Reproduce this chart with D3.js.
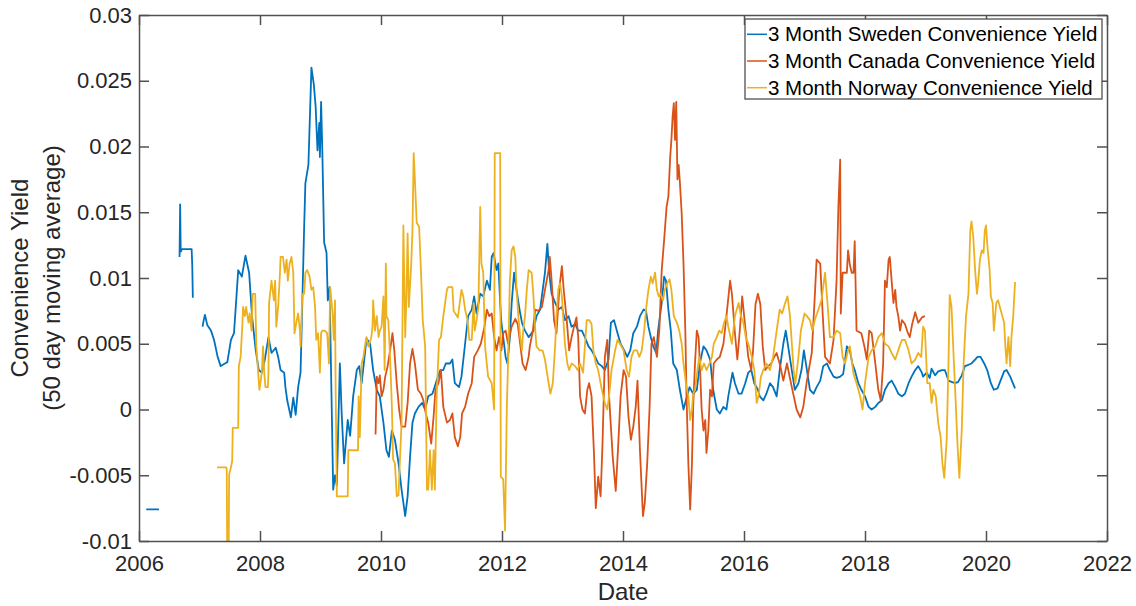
<!DOCTYPE html>
<html>
<head>
<meta charset="utf-8">
<script src="https://cdn.jsdelivr.net/npm/d3@7"></script>
<style>
body { margin: 0; background: #fff; }
svg { display: block; font-family: "Liberation Sans", Arial, sans-serif; }
</style>
</head>
<body>
<svg id="chart" width="1136" height="606"></svg>
<script>
// tick values
var xTicks = [2006, 2008, 2010, 2012, 2014, 2016, 2018, 2020, 2022];
var yTicks = [-0.01, -0.005, 0, 0.005, 0.01, 0.015, 0.02, 0.025, 0.03];

var seriesNames = [
	"3 Month Sweden Convenience Yield",
	"3 Month Canada Convenience Yield",
	"3 Month Norway Convenience Yield"
];

// [decimal year, yield], null = gap in the series
var sweden = [
	[2006.12,-0.0076],[2006.33,-0.0076],null,
	[2006.67,0.0116],[2006.68,0.0156],[2006.69,0.0120],[2006.71,0.0122],[2006.87,0.0122],[2006.88,0.0110],[2006.89,0.0085],null,
	[2007.05,0.0063],[2007.07,0.0068],[2007.09,0.0072],[2007.13,0.0064],[2007.19,0.0060],[2007.24,0.0053],[2007.30,0.0040],[2007.35,0.0033],
	[2007.42,0.0035],[2007.46,0.0036],[2007.52,0.0053],[2007.57,0.0058],[2007.64,0.0106],[2007.70,0.0101],[2007.76,0.0117],[2007.82,0.0104],
	[2007.87,0.0070],[2007.93,0.0045],[2007.98,0.0030],[2008.03,0.0028],[2008.08,0.0038],[2008.14,0.0055],[2008.19,0.0043],[2008.26,0.0047],
	[2008.30,0.0040],[2008.34,0.0030],[2008.40,0.0028],[2008.42,0.0017],[2008.45,0.0007],[2008.51,-0.0006],[2008.55,0.0009],[2008.59,-0.0004],
	[2008.63,0.0017],[2008.67,0.0028],[2008.70,0.0083],[2008.73,0.0139],[2008.75,0.0172],[2008.80,0.0186],[2008.83,0.0230],[2008.85,0.0260],
	[2008.89,0.0247],[2008.92,0.0230],[2008.95,0.0197],[2008.98,0.0218],[2008.99,0.0192],[2009.01,0.0234],[2009.03,0.0197],[2009.06,0.0127],
	[2009.10,0.0119],[2009.12,0.0083],[2009.15,0.0093],[2009.18,0.0015],[2009.21,-0.0061],[2009.24,-0.0050],[2009.27,-0.0058],[2009.32,0.0035],
	[2009.35,-0.0003],[2009.39,-0.0041],[2009.45,-0.0008],[2009.49,-0.0020],[2009.54,0.0010],[2009.60,0.0030],[2009.64,0.0033],[2009.68,0.0020],
	[2009.74,0.0045],[2009.76,0.0054],[2009.82,0.0050],[2009.87,0.0030],[2009.93,0.0015],[2009.98,0.0010],[2010.04,-0.0010],[2010.09,-0.0031],
	[2010.13,-0.0036],[2010.18,-0.0016],[2010.23,-0.0023],[2010.29,-0.0041],[2010.34,-0.0061],[2010.40,-0.0081],[2010.44,-0.0066],[2010.48,-0.0036],
	[2010.52,-0.0010],[2010.56,-0.0003],[2010.62,0.0002],[2010.68,0.0005],[2010.73,0.0000],[2010.78,0.0010],[2010.85,0.0012],[2010.92,0.0022],
	[2010.98,0.0030],[2011.03,0.0030],[2011.07,0.0035],[2011.14,0.0035],[2011.18,0.0038],[2011.22,0.0020],[2011.29,0.0017],[2011.33,0.0025],
	[2011.39,0.0050],[2011.44,0.0071],[2011.50,0.0076],[2011.54,0.0086],[2011.58,0.0073],[2011.64,0.0088],[2011.69,0.0086],[2011.75,0.0098],
	[2011.80,0.0091],[2011.83,0.0116],[2011.86,0.0119],[2011.91,0.0106],[2011.94,0.0111],[2011.97,0.0081],[2011.99,0.0066],[2012.02,0.0055],
	[2012.06,0.0040],[2012.09,0.0035],[2012.13,0.0055],[2012.16,0.0081],[2012.20,0.0104],[2012.24,0.0091],[2012.29,0.0076],[2012.33,0.0066],
	[2012.38,0.0060],[2012.44,0.0055],[2012.52,0.0060],[2012.57,0.0071],[2012.63,0.0076],[2012.71,0.0104],[2012.75,0.0126],[2012.78,0.0104],
	[2012.82,0.0088],[2012.88,0.0081],[2012.93,0.0076],[2012.99,0.0078],[2013.04,0.0068],[2013.10,0.0071],[2013.15,0.0063],[2013.21,0.0065],
	[2013.26,0.0060],[2013.32,0.0060],[2013.37,0.0055],[2013.43,0.0048],[2013.48,0.0045],[2013.54,0.0040],[2013.59,0.0035],[2013.65,0.0033],
	[2013.70,0.0030],[2013.76,0.0038],[2013.80,0.0066],[2013.85,0.0068],[2013.91,0.0058],[2013.96,0.0050],[2014.02,0.0045],[2014.07,0.0040],
	[2014.12,0.0045],[2014.17,0.0058],[2014.23,0.0063],[2014.28,0.0071],[2014.34,0.0076],[2014.38,0.0075],[2014.42,0.0063],[2014.46,0.0055],
	[2014.50,0.0048],[2014.55,0.0043],[2014.58,0.0060],[2014.64,0.0081],[2014.68,0.0101],[2014.71,0.0098],[2014.75,0.0076],[2014.79,0.0060],
	[2014.83,0.0035],[2014.89,0.0030],[2014.94,0.0015],[2015.00,0.0000],[2015.04,0.0007],[2015.10,0.0017],[2015.16,0.0012],[2015.22,0.0015],
	[2015.27,0.0035],[2015.33,0.0048],[2015.38,0.0045],[2015.44,0.0038],[2015.49,0.0015],[2015.55,0.0000],[2015.60,-0.0003],[2015.66,0.0002],
	[2015.71,0.0000],[2015.74,0.0010],[2015.81,0.0028],[2015.85,0.0020],[2015.91,0.0012],[2015.96,0.0012],[2016.02,0.0020],[2016.07,0.0028],
	[2016.12,0.0030],[2016.17,0.0020],[2016.23,0.0015],[2016.26,0.0010],[2016.32,0.0007],[2016.37,0.0012],[2016.43,0.0020],[2016.48,0.0017],
	[2016.54,0.0010],[2016.59,0.0030],[2016.65,0.0050],[2016.69,0.0060],[2016.73,0.0048],[2016.79,0.0030],[2016.84,0.0015],[2016.90,0.0020],
	[2016.95,0.0030],[2016.99,0.0045],[2017.04,0.0030],[2017.09,0.0015],[2017.15,0.0012],[2017.20,0.0017],[2017.26,0.0022],[2017.31,0.0033],
	[2017.37,0.0035],[2017.42,0.0030],[2017.48,0.0025],[2017.53,0.0024],[2017.59,0.0025],[2017.64,0.0027],[2017.70,0.0048],[2017.75,0.0045],
	[2017.79,0.0035],[2017.83,0.0030],[2017.89,0.0020],[2017.94,0.0015],[2018.00,0.0010],[2018.06,0.0002],[2018.11,0.0000],[2018.17,0.0002],
	[2018.22,0.0005],[2018.28,0.0007],[2018.33,0.0015],[2018.39,0.0020],[2018.44,0.0022],[2018.50,0.0017],[2018.55,0.0012],[2018.61,0.0010],
	[2018.66,0.0012],[2018.72,0.0020],[2018.77,0.0025],[2018.83,0.0030],[2018.88,0.0033],[2018.94,0.0028],[2018.96,0.0025],[2019.02,0.0028],
	[2019.07,0.0024],[2019.10,0.0031],[2019.16,0.0026],[2019.21,0.0029],[2019.27,0.0030],[2019.32,0.0030],[2019.38,0.0022],[2019.43,0.0021],
	[2019.49,0.0020],[2019.54,0.0021],[2019.60,0.0026],[2019.65,0.0033],[2019.71,0.0034],[2019.76,0.0035],[2019.82,0.0038],[2019.86,0.0040],
	[2019.91,0.0040],[2019.97,0.0035],[2020.02,0.0030],[2020.08,0.0020],[2020.13,0.0015],[2020.19,0.0016],[2020.24,0.0022],[2020.30,0.0029],
	[2020.34,0.0030],[2020.40,0.0025],[2020.48,0.0016]
];

var canada = [
	[2009.91,-0.0019],[2009.93,0.0025],[2009.96,0.0020],[2009.98,0.0026],[2010.01,0.0010],[2010.04,0.0015],[2010.07,0.0025],[2010.11,0.0033],
	[2010.15,0.0045],[2010.19,0.0058],[2010.22,0.0045],[2010.26,0.0020],[2010.30,0.0000],[2010.34,-0.0013],[2010.40,-0.0013],[2010.44,0.0005],
	[2010.48,0.0035],[2010.52,0.0046],[2010.56,0.0035],[2010.61,0.0015],[2010.66,0.0012],[2010.70,0.0007],[2010.74,-0.0003],[2010.78,-0.0010],
	[2010.83,-0.0026],[2010.87,-0.0005],[2010.90,0.0015],[2010.95,0.0020],[2010.99,0.0030],[2011.03,0.0002],[2011.09,-0.0010],[2011.14,-0.0008],
	[2011.18,-0.0003],[2011.22,-0.0021],[2011.27,-0.0028],[2011.31,-0.0021],[2011.34,-0.0003],[2011.39,0.0002],[2011.44,0.0012],[2011.50,0.0020],
	[2011.54,0.0040],[2011.60,0.0045],[2011.65,0.0050],[2011.71,0.0063],[2011.75,0.0076],[2011.79,0.0071],[2011.83,0.0073],[2011.87,0.0055],
	[2011.91,0.0045],[2011.95,0.0055],[2011.99,0.0045],[2012.02,0.0058],[2012.06,0.0060],[2012.10,0.0050],[2012.16,0.0063],[2012.22,0.0069],
	[2012.26,0.0065],[2012.30,0.0050],[2012.34,0.0035],[2012.39,0.0030],[2012.44,0.0040],[2012.46,0.0048],[2012.51,0.0060],[2012.55,0.0076],
	[2012.60,0.0075],[2012.66,0.0078],[2012.71,0.0091],[2012.77,0.0106],[2012.79,0.0116],[2012.82,0.0098],[2012.86,0.0068],[2012.90,0.0058],
	[2012.95,0.0093],[2012.99,0.0109],[2013.02,0.0091],[2013.07,0.0068],[2013.11,0.0045],[2013.15,0.0055],[2013.19,0.0063],[2013.23,0.0070],
	[2013.26,0.0055],[2013.29,0.0010],[2013.33,0.0000],[2013.37,-0.0003],[2013.41,0.0015],[2013.44,0.0020],[2013.48,0.0010],[2013.52,-0.0033],
	[2013.55,-0.0075],[2013.59,-0.0051],[2013.63,-0.0066],[2013.66,-0.0028],[2013.70,0.0040],[2013.74,0.0053],[2013.77,0.0010],[2013.83,-0.0036],
	[2013.88,-0.0062],[2013.92,-0.0028],[2013.96,0.0010],[2014.01,0.0030],[2014.05,0.0025],[2014.09,-0.0005],[2014.13,-0.0023],[2014.17,-0.0013],
	[2014.21,0.0002],[2014.24,0.0022],[2014.28,-0.0031],[2014.33,-0.0081],[2014.36,-0.0071],[2014.40,-0.0041],[2014.44,0.0002],[2014.47,0.0050],
	[2014.51,0.0055],[2014.56,0.0040],[2014.60,0.0060],[2014.64,0.0106],[2014.68,0.0129],[2014.72,0.0154],[2014.75,0.0162],[2014.78,0.0192],
	[2014.80,0.0205],[2014.82,0.0223],[2014.84,0.0233],[2014.86,0.0205],[2014.88,0.0234],[2014.90,0.0175],[2014.92,0.0186],[2014.94,0.0173],
	[2014.97,0.0149],[2015.00,0.0111],[2015.03,0.0060],[2015.05,0.0010],[2015.08,-0.0041],[2015.11,-0.0076],[2015.14,-0.0041],[2015.16,0.0002],
	[2015.19,0.0035],[2015.22,0.0060],[2015.25,0.0055],[2015.27,0.0035],[2015.30,0.0000],[2015.33,-0.0016],[2015.36,-0.0008],[2015.38,-0.0033],
	[2015.41,-0.0016],[2015.44,0.0015],[2015.47,0.0010],[2015.50,0.0035],[2015.55,0.0038],[2015.60,0.0040],[2015.66,0.0050],[2015.71,0.0071],
	[2015.77,0.0098],[2015.80,0.0088],[2015.85,0.0058],[2015.89,0.0038],[2015.93,0.0060],[2015.97,0.0086],[2016.02,0.0063],[2016.07,0.0040],
	[2016.12,0.0030],[2016.15,0.0045],[2016.19,0.0080],[2016.23,0.0088],[2016.27,0.0080],[2016.31,0.0048],[2016.35,0.0030],[2016.40,0.0033],
	[2016.45,0.0035],[2016.50,0.0040],[2016.54,0.0043],[2016.60,0.0033],[2016.65,0.0022],[2016.71,0.0035],[2016.79,0.0017],[2016.87,0.0000],
	[2016.93,-0.0006],[2016.98,0.0002],[2017.04,0.0022],[2017.12,0.0043],[2017.17,0.0086],[2017.20,0.0114],[2017.26,0.0111],[2017.30,0.0073],
	[2017.34,0.0040],[2017.42,0.0035],[2017.48,0.0053],[2017.53,0.0098],[2017.56,0.0154],[2017.59,0.0190],[2017.60,0.0073],[2017.63,0.0104],
	[2017.70,0.0104],[2017.72,0.0121],[2017.75,0.0110],[2017.78,0.0104],[2017.81,0.0104],[2017.83,0.0128],[2017.86,0.0060],[2017.94,0.0058],
	[2017.99,0.0048],[2018.03,0.0038],[2018.07,0.0060],[2018.11,0.0058],[2018.17,0.0035],[2018.22,0.0015],[2018.26,0.0007],[2018.30,0.0035],
	[2018.33,0.0098],[2018.36,0.0093],[2018.39,0.0114],[2018.41,0.0116],[2018.44,0.0098],[2018.47,0.0081],[2018.50,0.0091],[2018.52,0.0078],
	[2018.55,0.0071],[2018.58,0.0060],[2018.61,0.0068],[2018.66,0.0065],[2018.71,0.0058],[2018.74,0.0055],[2018.78,0.0065],[2018.83,0.0074],
	[2018.88,0.0066],[2018.94,0.0070],[2018.99,0.0071]
];

var norway = [
	[2007.29,-0.0044],[2007.44,-0.0044],[2007.45,-0.0045],[2007.46,-0.0125],[2007.48,-0.0125],[2007.49,-0.0049],[2007.52,-0.0044],[2007.54,-0.0039],
	[2007.55,-0.0014],[2007.64,-0.0014],[2007.65,0.0033],[2007.68,0.0040],[2007.71,0.0066],[2007.72,0.0078],[2007.75,0.0071],[2007.77,0.0078],
	[2007.81,0.0066],[2007.83,0.0073],[2007.86,0.0060],[2007.88,0.0088],[2007.92,0.0088],[2007.94,0.0048],[2007.97,0.0028],[2007.99,0.0015],
	[2008.03,0.0028],[2008.05,0.0048],[2008.07,0.0028],[2008.09,0.0017],[2008.13,0.0017],[2008.14,0.0028],[2008.15,0.0081],[2008.19,0.0098],
	[2008.23,0.0083],[2008.25,0.0098],[2008.27,0.0063],[2008.30,0.0078],[2008.33,0.0104],[2008.34,0.0116],[2008.38,0.0116],[2008.41,0.0104],
	[2008.44,0.0114],[2008.46,0.0098],[2008.49,0.0111],[2008.52,0.0116],[2008.55,0.0104],[2008.57,0.0058],[2008.60,0.0066],[2008.63,0.0073],
	[2008.66,0.0060],[2008.67,0.0048],[2008.70,0.0088],[2008.73,0.0088],[2008.75,0.0104],[2008.78,0.0106],[2008.82,0.0101],[2008.85,0.0091],
	[2008.88,0.0093],[2008.91,0.0078],[2008.93,0.0053],[2008.96,0.0058],[2008.99,0.0028],[2009.01,0.0058],[2009.03,0.0060],[2009.07,0.0060],
	[2009.11,0.0058],[2009.14,0.0035],[2009.16,0.0093],[2009.20,0.0073],[2009.22,0.0053],[2009.24,0.0083],[2009.25,0.0017],[2009.27,-0.0066],
	[2009.45,-0.0066],[2009.46,-0.0031],[2009.62,-0.0031],[2009.63,0.0010],[2009.65,-0.0021],[2009.68,0.0035],[2009.71,0.0040],[2009.74,0.0050],
	[2009.76,0.0055],[2009.79,0.0048],[2009.84,0.0055],[2009.86,0.0063],[2009.87,0.0083],[2009.90,0.0060],[2009.93,0.0071],[2009.96,0.0055],
	[2009.98,0.0060],[2010.01,0.0063],[2010.04,0.0086],[2010.06,0.0030],[2010.08,0.0111],[2010.09,0.0071],[2010.12,0.0068],[2010.15,0.0040],
	[2010.18,0.0002],[2010.20,-0.0038],[2010.23,-0.0041],[2010.26,-0.0066],[2010.29,-0.0065],[2010.31,-0.0041],[2010.34,-0.0010],[2010.37,0.0140],
	[2010.40,0.0055],[2010.42,0.0086],[2010.44,0.0134],[2010.46,0.0078],[2010.50,0.0111],[2010.52,0.0136],[2010.54,0.0195],[2010.56,0.0175],
	[2010.59,0.0142],[2010.63,0.0139],[2010.66,0.0106],[2010.69,0.0068],[2010.73,0.0048],[2010.76,-0.0061],[2010.78,-0.0061],[2010.81,-0.0031],
	[2010.84,-0.0061],[2010.87,-0.0031],[2010.89,-0.0061],[2010.92,0.0010],[2010.96,0.0053],[2010.99,0.0055],[2011.03,0.0071],[2011.06,0.0081],
	[2011.09,0.0091],[2011.11,0.0093],[2011.18,0.0093],[2011.20,0.0075],[2011.27,0.0070],[2011.33,0.0091],[2011.36,0.0086],[2011.39,0.0076],
	[2011.43,0.0068],[2011.46,0.0053],[2011.50,0.0053],[2011.53,0.0081],[2011.55,0.0060],[2011.58,0.0068],[2011.61,0.0078],[2011.64,0.0154],
	[2011.66,0.0111],[2011.69,0.0104],[2011.72,0.0048],[2011.77,0.0025],[2011.83,0.0020],[2011.87,0.0000],[2011.88,0.0195],[2011.97,0.0195],
	[2011.98,-0.0051],[2012.02,-0.0053],[2012.05,-0.0092],[2012.08,0.0002],[2012.10,0.0035],[2012.13,0.0098],[2012.16,0.0121],[2012.19,0.0124],
	[2012.22,0.0116],[2012.24,0.0091],[2012.27,0.0071],[2012.30,0.0055],[2012.33,0.0045],[2012.35,0.0060],[2012.38,0.0071],[2012.41,0.0091],
	[2012.44,0.0106],[2012.49,0.0104],[2012.52,0.0086],[2012.55,0.0060],[2012.57,0.0048],[2012.62,0.0045],[2012.67,0.0045],[2012.71,0.0038],
	[2012.77,0.0020],[2012.80,0.0012],[2012.84,0.0020],[2012.88,0.0050],[2012.90,0.0071],[2012.93,0.0091],[2012.96,0.0096],[2012.99,0.0086],
	[2013.01,0.0071],[2013.04,0.0050],[2013.08,0.0035],[2013.11,0.0030],[2013.15,0.0035],[2013.21,0.0033],[2013.25,0.0030],[2013.29,0.0035],
	[2013.34,0.0028],[2013.40,0.0068],[2013.44,0.0068],[2013.48,0.0065],[2013.51,0.0045],[2013.55,0.0035],[2013.59,0.0030],[2013.65,0.0015],
	[2013.70,0.0005],[2013.74,0.0000],[2013.77,0.0010],[2013.81,0.0030],[2013.87,0.0045],[2013.91,0.0053],[2013.95,0.0050],[2014.01,0.0045],
	[2014.06,0.0030],[2014.10,0.0025],[2014.14,0.0040],[2014.18,0.0045],[2014.23,0.0045],[2014.27,0.0040],[2014.31,0.0045],[2014.35,0.0060],
	[2014.38,0.0076],[2014.42,0.0091],[2014.46,0.0101],[2014.49,0.0096],[2014.53,0.0104],[2014.56,0.0091],[2014.59,0.0086],[2014.62,0.0088],
	[2014.66,0.0083],[2014.69,0.0091],[2014.73,0.0096],[2014.77,0.0099],[2014.80,0.0091],[2014.84,0.0071],[2014.89,0.0066],[2014.93,0.0060],
	[2014.97,0.0050],[2015.00,0.0035],[2015.04,0.0020],[2015.08,0.0010],[2015.11,-0.0008],[2015.14,0.0000],[2015.16,0.0012],[2015.19,0.0015],
	[2015.23,0.0030],[2015.26,0.0040],[2015.30,0.0030],[2015.34,0.0035],[2015.38,0.0030],[2015.43,0.0035],[2015.47,0.0040],[2015.50,0.0050],
	[2015.55,0.0055],[2015.59,0.0060],[2015.63,0.0058],[2015.67,0.0066],[2015.71,0.0071],[2015.74,0.0063],[2015.80,0.0050],[2015.85,0.0071],
	[2015.91,0.0081],[2015.95,0.0071],[2015.99,0.0066],[2016.03,0.0055],[2016.07,0.0050],[2016.13,0.0040],[2016.17,0.0030],[2016.21,0.0005],
	[2016.24,0.0010],[2016.28,0.0025],[2016.32,0.0030],[2016.37,0.0035],[2016.43,0.0030],[2016.48,0.0040],[2016.54,0.0060],[2016.59,0.0076],
	[2016.63,0.0073],[2016.68,0.0081],[2016.72,0.0086],[2016.76,0.0071],[2016.82,0.0030],[2016.85,0.0020],[2016.90,0.0040],[2016.94,0.0060],
	[2017.00,0.0073],[2017.04,0.0071],[2017.09,0.0068],[2017.13,0.0060],[2017.17,0.0068],[2017.23,0.0076],[2017.28,0.0083],[2017.34,0.0104],
	[2017.38,0.0081],[2017.42,0.0055],[2017.48,0.0055],[2017.53,0.0060],[2017.59,0.0058],[2017.63,0.0040],[2017.67,0.0035],[2017.72,0.0045],
	[2017.75,0.0048],[2017.81,0.0027],[2017.86,0.0020],[2017.92,0.0010],[2017.96,0.0000],[2018.00,0.0020],[2018.06,0.0040],[2018.11,0.0045],
	[2018.17,0.0048],[2018.22,0.0055],[2018.28,0.0058],[2018.33,0.0050],[2018.39,0.0048],[2018.44,0.0043],[2018.50,0.0038],[2018.55,0.0045],
	[2018.61,0.0053],[2018.66,0.0053],[2018.72,0.0045],[2018.77,0.0035],[2018.83,0.0038],[2018.88,0.0043],[2018.93,0.0040],[2018.96,0.0063],
	[2018.99,0.0060],[2019.03,0.0020],[2019.07,0.0020],[2019.10,0.0005],[2019.13,0.0015],[2019.17,0.0010],[2019.21,-0.0010],[2019.25,-0.0021],
	[2019.28,-0.0041],[2019.31,-0.0052],[2019.35,-0.0023],[2019.38,0.0035],[2019.40,0.0087],[2019.43,0.0078],[2019.47,0.0035],[2019.50,0.0005],
	[2019.53,-0.0028],[2019.56,-0.0052],[2019.60,-0.0015],[2019.63,0.0035],[2019.67,0.0071],[2019.71,0.0088],[2019.74,0.0136],[2019.76,0.0143],
	[2019.79,0.0131],[2019.82,0.0106],[2019.85,0.0088],[2019.87,0.0096],[2019.90,0.0114],[2019.93,0.0121],[2019.96,0.0119],[2019.98,0.0136],
	[2020.00,0.0140],[2020.02,0.0126],[2020.06,0.0106],[2020.08,0.0086],[2020.11,0.0081],[2020.13,0.0060],[2020.17,0.0081],[2020.20,0.0083],
	[2020.24,0.0076],[2020.27,0.0071],[2020.30,0.0066],[2020.32,0.0048],[2020.34,0.0035],[2020.37,0.0055],[2020.40,0.0033],[2020.42,0.0055],
	[2020.45,0.0071],[2020.48,0.0097]
];

var series = [sweden, canada, norway];
var colors = ["#0072bd", "#d95319", "#edb120"];

var svg = d3.select("#chart"),
	plotLeft = 139, plotRight = 1107, plotTop = 15, plotBottom = 541,
	axisColor = "#505050",
	textColor = "#262626";

var x = d3.scaleLinear().domain([2006, 2022]).range([plotLeft, plotRight]);
var y = d3.scaleLinear().domain([-0.01, 0.03]).range([plotBottom, plotTop]);

// clip so the deep norway dip is cut at the bottom axis
svg.append("defs").append("clipPath")
	.attr("id", "plot-clip")
	.append("rect")
	.attr("x", plotLeft).attr("y", plotTop)
	.attr("width", plotRight - plotLeft).attr("height", plotBottom - plotTop);

var line = d3.line()
	.defined(function(d) { return d !== null; })
	.x(function(d) { return x(d[0]); })
	.y(function(d) { return y(d[1]); });

svg.append("g")
	.attr("clip-path", "url(#plot-clip)")
	.selectAll("path")
	.data(series)
	.enter().append("path")
	.attr("d", line)
	.attr("fill", "none")
	.attr("stroke", function(d, i) { return colors[i]; })
	.attr("stroke-width", 1.8)
	.attr("stroke-linejoin", "round");

function fmt(v) {
	return String(+v.toFixed(3));
}

function styleAxis(g, size) {
	g.attr("font-family", null).attr("font-size", size);
	g.selectAll("path, line").attr("stroke", axisColor).attr("stroke-width", 1.5);
	g.selectAll("text").attr("fill", textColor);
}

// ticks point inward on all four sides, like matlab's box
svg.append("g")
	.attr("transform", "translate(0," + plotBottom + ")")
	.call(d3.axisBottom(x).tickValues(xTicks).tickFormat(d3.format("d"))
		.tickSizeInner(-10).tickSizeOuter(0).tickPadding(14))
	.call(styleAxis, 22);

svg.append("g")
	.attr("transform", "translate(" + plotLeft + ",0)")
	.call(d3.axisLeft(y).tickValues(yTicks).tickFormat(fmt)
		.tickSizeInner(-10).tickSizeOuter(0).tickPadding(7))
	.call(styleAxis, 22);

svg.append("g")
	.attr("transform", "translate(0," + plotTop + ")")
	.call(d3.axisTop(x).tickValues(xTicks).tickFormat("")
		.tickSizeInner(-10).tickSizeOuter(0))
	.call(styleAxis, 22);

svg.append("g")
	.attr("transform", "translate(" + plotRight + ",0)")
	.call(d3.axisRight(y).tickValues(yTicks).tickFormat("")
		.tickSizeInner(-10).tickSizeOuter(0))
	.call(styleAxis, 22);

// axis labels
svg.append("text")
	.attr("x", (plotLeft + plotRight) / 2)
	.attr("y", 600)
	.attr("text-anchor", "middle")
	.attr("font-size", 24)
	.attr("fill", textColor)
	.text("Date");

var yLabel = ["Convenience Yield", "(50 day moving average)"];
svg.selectAll("text.ylabel")
	.data(yLabel)
	.enter().append("text")
	.attr("class", "ylabel")
	.attr("transform", function(d, i) {
		return "translate(" + (28 + i * 32) + "," + (plotTop + plotBottom) / 2 + ") rotate(-90)";
	})
	.attr("text-anchor", "middle")
	.attr("font-size", 24)
	.attr("fill", textColor)
	.text(function(d) { return d; });

// legend
var legend = svg.append("g").attr("class", "legend");

legend.append("rect")
	.attr("x", 745).attr("y", 19)
	.attr("width", 357).attr("height", 80)
	.attr("fill", "#fff")
	.attr("stroke", axisColor)
	.attr("stroke-width", 1.3);

var items = legend.selectAll("g.item")
	.data(seriesNames)
	.enter().append("g")
	.attr("class", "item")
	.attr("transform", function(d, i) { return "translate(747," + (34.3 + i * 26.7) + ")"; });

items.append("line")
	.attr("x1", 0).attr("x2", 20)
	.attr("stroke", function(d, i) { return colors[i]; })
	.attr("stroke-width", 1.5);

items.append("text")
	.attr("x", 21)
	.attr("dy", 7)
	.attr("font-size", 20.5)
	.attr("fill", "#000")
	.text(function(d) { return d; });
</script>
</body>
</html>
